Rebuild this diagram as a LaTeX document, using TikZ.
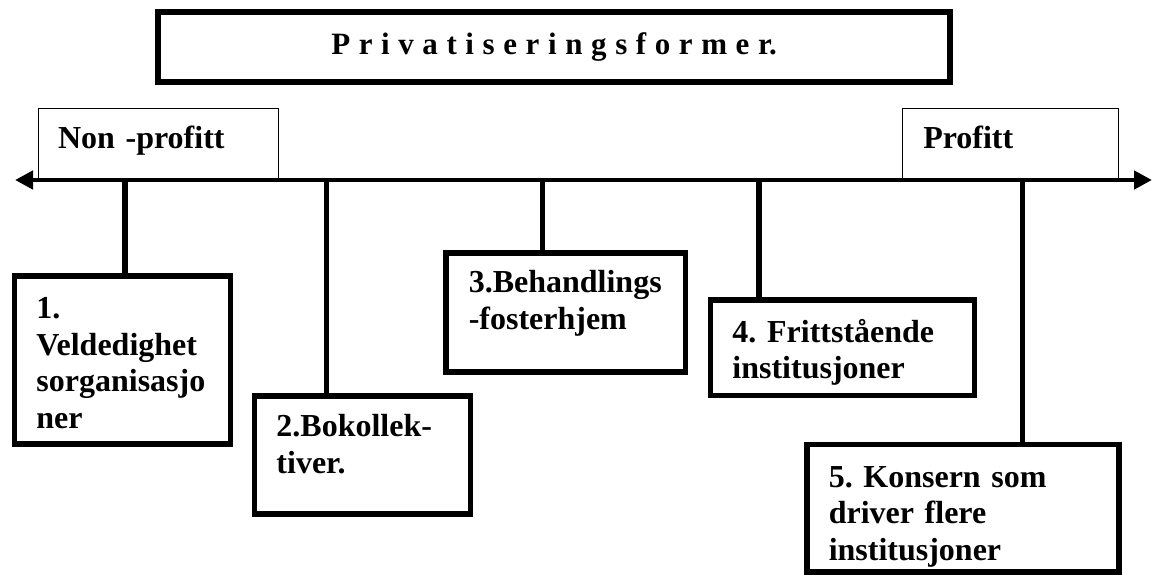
\documentclass[tikz,border=0pt]{standalone}
\usepackage{fontspec}
\setmainfont{Liberation Serif}
\usepackage{tikz}
\usetikzlibrary{arrows.meta, positioning}
\frenchspacing

\begin{document}
\begin{tikzpicture}[x=0.5pt, y=-0.5pt, font=\fontsize{16}{18.25}\selectfont\bfseries,
  formbox/.style={draw, line width=2.75pt, anchor=north west, align=left, inner xsep=11pt, inner ysep=0pt},
  tagbox/.style={draw, line width=0.75pt, anchor=north west, align=left, inner ysep=0pt, text height=19.8pt, text depth=16pt},
  stem/.style={line width=2.75pt},
  axisline/.style={line width=2.4pt, {Triangle[length=9pt, width=9pt]}-{Triangle[length=9pt, width=9pt]}}]
\useasboundingbox (0,0) rectangle (1153,574);

\node[draw, line width=3pt, anchor=north west, align=center, text width=396pt, inner xsep=0pt, inner ysep=0pt, text height=21pt, text depth=14pt, font=\fontsize{15.5}{18.25}\selectfont\bfseries] (title) at (155,9) {\spaceskip=4.3pt\relax P r i v a t i s e r i n g s f o r m e r.};

% the two ends of the scale
\node[tagbox, text width=100.3pt, inner xsep=9.8pt] (nonprofit) at (37.7,107.7) {Non -profitt};
\node[tagbox, text width=87pt, inner xsep=10.5pt] (profit) at (901.5,107.7) {Profitt};
\coordinate (west) at (15,180);
\coordinate (east) at (1152,180);
\draw[axisline] (west) -- (east);

% forms hanging from the scale
\node[formbox, text width=85.9pt, text height=21.6pt, text depth=62.6pt] (veld) at (11.7,273) {1.\\Veldedighet\\sorganisasjo\\ner};
\node[formbox, text width=86pt, text height=20.6pt, text depth=38.6pt] (bokoll) at (251.7,393) {2.Bokollek-\\tiver.};
\node[formbox, text width=96.75pt, inner xsep=11.5pt, text height=20.1pt, text depth=39.6pt] (behandl) at (443,250) {3.Behandlings\\-fosterhjem};
\node[formbox, text width=110pt, text height=21pt, text depth=26.8pt] (fritt) at (707.7,297.3) {4. Frittstående\\institusjoner};
\node[formbox, text width=134pt, text height=21.3pt, text depth=42.4pt] (konsern) at (804,441.7) {5. Konsern som\\driver flere\\institusjoner};

\foreach \b/\x in {veld/125, bokoll/326.7, behandl/542.7, fritt/759, konsern/1022.5} {
  \coordinate (s-\b) at (\x,180);
  \draw[stem] (s-\b) -- (s-\b |- \b.north);
}
\end{tikzpicture}
\end{document}
